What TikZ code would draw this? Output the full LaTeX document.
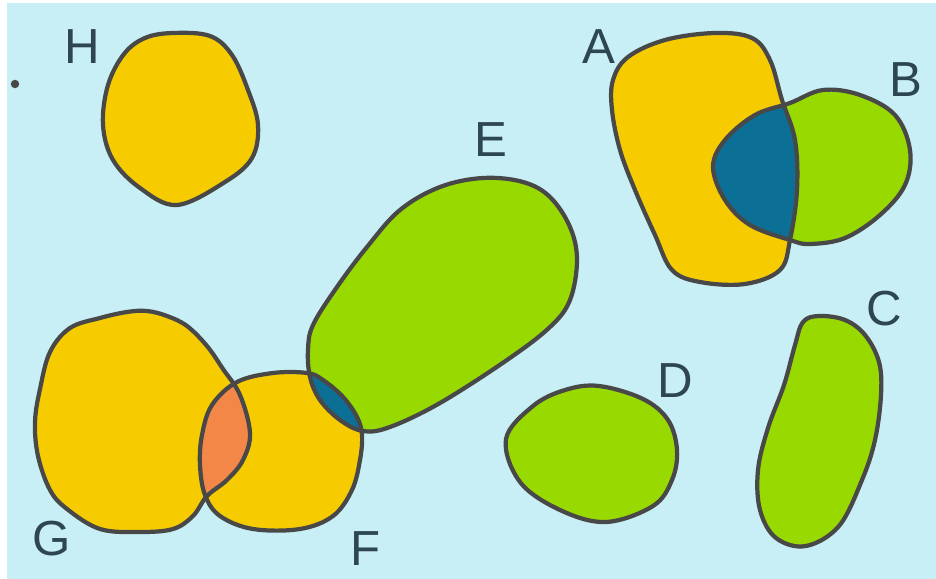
\documentclass[tikz,border=0pt]{standalone}
\usepackage{fontspec}
\setmainfont{Liberation Sans}
\definecolor{bgcyan}{RGB}{200,238,246}
\definecolor{blobyellow}{RGB}{246,204,0}
\definecolor{blobgreen}{RGB}{152,218,0}
\definecolor{blobblue}{RGB}{12,112,150}
\definecolor{bloborange}{RGB}{242,135,72}
\definecolor{blobedge}{RGB}{72,72,72}
\definecolor{labelgray}{RGB}{45,70,80}
\tikzset{blob/.style={draw=blobedge,line width=1.2pt},
  lbl/.style={text=labelgray,font=\fontsize{14}{16}\selectfont}}
% outlines of the sets
\newcommand{\blobA}{plot[smooth cycle,tension=0.6] coordinates {(628,57) (665,40) (715,33) (752,38) (770,60) (782,100) (795,140) (797,190) (790,240) (780,270) (745,284) (700,282) (672,270) (655,235) (635,190) (620,150) (612,110) (613,80)}}
\newcommand{\blobB}{plot[smooth cycle,tension=0.6] coordinates {(790,103) (823,90) (860,95) (895,115) (910,150) (905,185) (880,215) (845,238) (810,244) (790,240) (750,225) (725,200) (713,167) (725,140) (755,115)}}
\newcommand{\blobC}{plot[smooth cycle,tension=0.6] coordinates {(819,316) (845,320) (865,335) (879,362) (881,395) (875,440) (862,480) (839,526) (806,546) (776,538) (760,510) (758,470) (768,428) (784,385) (795,345) (803,322)}}
\newcommand{\blobD}{plot[smooth cycle,tension=0.6] coordinates {(506,439) (533,406) (565,390) (599,386) (643,399) (668,420) (677,450) (672,480) (653,506) (606,522) (560,510) (520,482)}}
\newcommand{\blobE}{plot[smooth cycle,tension=0.6] coordinates {(483,178) (523,182) (550,197) (570,227) (577,260) (570,300) (550,327) (507,360) (440,403) (390,427) (363,431) (340,420) (320,400) (310,377) (308,350) (313,325) (337,287) (367,247) (400,210) (440,187)}}
\newcommand{\blobF}{plot[smooth cycle,tension=0.6] coordinates {(237,382) (273,373) (307,373) (323,380) (343,397) (357,417) (362,435) (360,460) (352,490) (333,516) (300,529) (253,529) (220,516) (205,495) (200,465) (202,435) (212,405)}}
\newcommand{\blobG}{plot[smooth cycle,tension=0.6] coordinates {(70,328) (100,318) (127,312) (147,311) (167,316) (187,326) (207,346) (223,369) (240,395) (250,433) (243,460) (227,480) (207,496) (193,516) (173,529) (140,532) (100,529) (67,509) (50,490) (38,456) (35,422) (40,389) (50,352)}}
\newcommand{\blobH}{plot[smooth cycle,tension=0.6] coordinates {(173,33) (210,36) (232,55) (248,90) (258,125) (252,158) (225,182) (177,205) (140,188) (113,160) (103,125) (108,85) (124,54) (145,38)}}

\begin{document}
\begin{tikzpicture}[x=0.01cm,y=-0.01cm]
% background
\fill[white] (0,0) rectangle (936,579);
\fill[bgcyan] (7,3) rectangle (936,579);
\fill[blobedge] (15,84) circle (1.2pt);
% sets
\fill[blobyellow] \blobA; \fill[blobgreen] \blobB;
\fill[blobgreen] \blobC; \fill[blobgreen] \blobD;
\fill[blobgreen] \blobE; \fill[blobyellow] \blobF;
\fill[blobyellow] \blobG; \fill[blobyellow] \blobH;
% overlaps
\begin{scope} \clip \blobB; \fill[blobblue] \blobA; \end{scope}
\begin{scope} \clip \blobE; \fill[blobblue] \blobF; \end{scope}
\begin{scope} \clip \blobG; \fill[bloborange] \blobF; \end{scope}
\foreach \b in {\blobA,\blobB,\blobC,\blobD,\blobE,\blobF,\blobG,\blobH} {\draw[blob] \b;}
% labels
\node[lbl] (labA) at (599,47) {A};
\node[lbl] (labB) at (906,80) {B};
\node[lbl] (labC) at (884,309) {C};
\node[lbl] (labD) at (675,381) {D};
\node[lbl] (labE) at (491,140) {E};
\node[lbl] (labF) at (366,549) {F};
\node[lbl] (labG) at (52,539) {G};
\node[lbl] (labH) at (82,47) {H};
\end{tikzpicture}
\end{document}
